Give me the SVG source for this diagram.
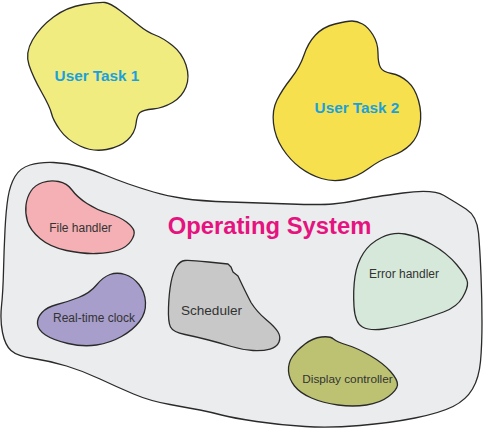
<svg xmlns="http://www.w3.org/2000/svg" width="483" height="428" viewBox="0 0 483 428">
<style>
.blob{stroke:#2a2a2a;stroke-width:1.3;stroke-linejoin:round}
.big{font-family:"Liberation Sans",Arial,sans-serif;font-weight:bold;text-anchor:middle}
.lbl{font-family:"Liberation Sans",Arial,sans-serif;fill:#333333;text-anchor:middle}
</style>
<rect width="483" height="428" fill="#ffffff"/>
<g id="user-task-1">
<path class="blob" fill="#f0ec80" d="M83.5,4.5 Q67,7 53.5,17 Q40,27 32.5,40 Q25,53 29,65 Q33,77 41.5,92 Q50,107 51.5,113.5 Q53,120 60,130 Q67,140 80,146 Q93,152 106.5,149.5 Q120,147 127.5,140 Q135,133 136,124 Q137,115 140,112.5 Q143,110 153,109 Q163,108 172.5,102.5 Q182,97 186,87 Q190,77 186,65 Q182,53 172.5,45.5 Q163,38 155,35 Q147,32 138.5,25 Q130,18 120,10.5 Q110,3 105,2.5 Q100,2 83.5,4.5 Z"/>
<text class="big" x="97" y="81" font-size="15.3" fill="#1ba0db">User Task 1</text>
</g>
<g id="user-task-2">
<path class="blob" fill="#f6e04e" d="M335,24 Q323,27 315.5,35 Q308,43 304,55 Q300,67 291,78.5 Q282,90 277,100 Q272,110 273.5,123.5 Q275,137 282.5,148.5 Q290,160 300,167.5 Q310,175 321.5,178.5 Q333,182 345,179.5 Q357,177 368.5,168.5 Q380,160 391.5,156 Q403,152 410.5,144.5 Q418,137 420,125 Q422,113 418.5,100.5 Q415,88 407.5,81.5 Q400,75 391.5,73.5 Q383,72 380.5,67.5 Q378,63 378,53 Q378,43 373,35 Q368,27 362.5,24 Q357,21 352,21 Q347,21 335,24 Z"/>
<text class="big" x="357" y="113" font-size="15.3" fill="#1ba0db">User Task 2</text>
</g>
<g id="operating-system">
<path class="blob" fill="#ebeced" d="M30,165 Q40,162 53.5,162.5 Q67,163 80,166.5 Q93,170 105,175 Q117,180 128.5,184 Q140,188 153.5,192 Q167,196 183.5,198.5 Q200,201 230,202 Q260,203 290,204 Q320,205 332.5,204 Q345,203 359,200 Q373,197 403,193 Q433,189 444,195.5 Q455,202 466,209 Q477,216 478.5,233 Q480,250 481,275 Q482,300 482,322.5 Q482,345 480.5,361.5 Q479,378 472.5,389 Q466,400 453,406.5 Q440,413 415,418 Q390,423 360,425.5 Q330,428 305,426.5 Q280,425 256.5,421.5 Q233,418 221.5,415 Q210,412 200,410 Q190,408 170,404.5 Q150,401 133.5,394 Q117,387 100,379 Q83,371 66.5,366 Q50,361 33.5,358.5 Q17,356 11,350.5 Q5,345 2.5,332.5 Q0,320 1.5,306 Q3,292 3.5,271 Q4,250 5,230 Q6,210 8,197.5 Q10,185 15,176.5 Q20,168 30,165 Z"/>
<text class="big" x="269.5" y="234" font-size="23.8" fill="#e5137f">Operating System</text>
</g>
<g id="file-handler">
<path class="blob" fill="#f4b0b4" d="M58.5,181.5 Q67,183 72,190 Q77,197 87,203.5 Q97,210 108.5,213.5 Q120,217 126.5,222 Q133,227 134,231 Q135,235 131,241 Q127,247 118.5,250 Q110,253 96.5,253.5 Q83,254 66.5,250.5 Q50,247 40,238.5 Q30,230 27.5,221.5 Q25,213 26,205 Q27,197 31,191 Q35,185 42.5,182.5 Q50,180 58.5,181.5 Z"/>
<text class="lbl" x="80.5" y="232" font-size="12">File handler</text>
</g>
<g id="real-time-clock">
<path class="blob" fill="#a79ecb" d="M57,304.5 Q67,302 78.5,297.5 Q90,293 96.5,285 Q103,277 110,274.5 Q117,272 125,274.5 Q133,277 139,284.5 Q145,292 145.5,302.5 Q146,313 139.5,321.5 Q133,330 121.5,336.5 Q110,343 96.5,345 Q83,347 68,343.5 Q53,340 45.5,335 Q38,330 37.5,324 Q37,318 42,312.5 Q47,307 57,304.5 Z"/>
<text class="lbl" x="94" y="321.5" font-size="12">Real-time clock</text>
</g>
<g id="scheduler">
<path class="blob" fill="#c8c8c8" d="M185,260.5 Q190,260 208.5,262 L228,264 L231,267 L233,272 L238,276 Q245,291 251,302.5 Q257,312 266,319.5 Q275,327 278,332 Q281,337 279,342 Q277,347 270,349 Q263,351 253,350.5 Q243,350 231.5,346.5 Q220,343 208.5,340 Q197,337 185,334.5 Q173,332 170.5,327 Q168,322 168.5,307.5 Q169,293 171,282.5 Q173,272 176.5,266.5 Q180,261 185,260.5 Z"/>
<text class="lbl" x="211.5" y="315" font-size="13.6">Scheduler</text>
</g>
<g id="error-handler">
<path class="blob" fill="#d6e8d9" d="M381.5,237.5 Q370,243 363.5,253 Q357,263 355,276.5 Q353,290 354,306.5 Q355,323 362.5,327 Q370,331 383.5,329 Q397,327 413.5,322 Q430,317 443.5,312 Q457,307 462.5,297.5 Q468,288 467.5,282.5 Q467,277 457,265 Q447,253 432,244.5 Q417,236 405,234 Q393,232 381.5,237.5 Z"/>
<text class="lbl" x="404" y="278" font-size="12">Error handler</text>
</g>
<g id="display-controller">
<path class="blob" fill="#bcc272" d="M305,344 Q313,338 321.5,337 Q330,336 333.5,339 Q337,342 347,345 Q357,348 370,355.5 Q383,363 390.5,371.5 Q398,380 397.5,385 Q397,390 388.5,396.5 Q380,403 366.5,405 Q353,407 338,405 Q323,403 311.5,398 Q300,393 294.5,386 Q289,379 288.5,371 Q288,363 292.5,356.5 Q297,350 305,344 Z"/>
<text class="lbl" x="347.5" y="383" font-size="11.8">Display controller</text>
</g>
<g id="connectors"/>
</svg>
